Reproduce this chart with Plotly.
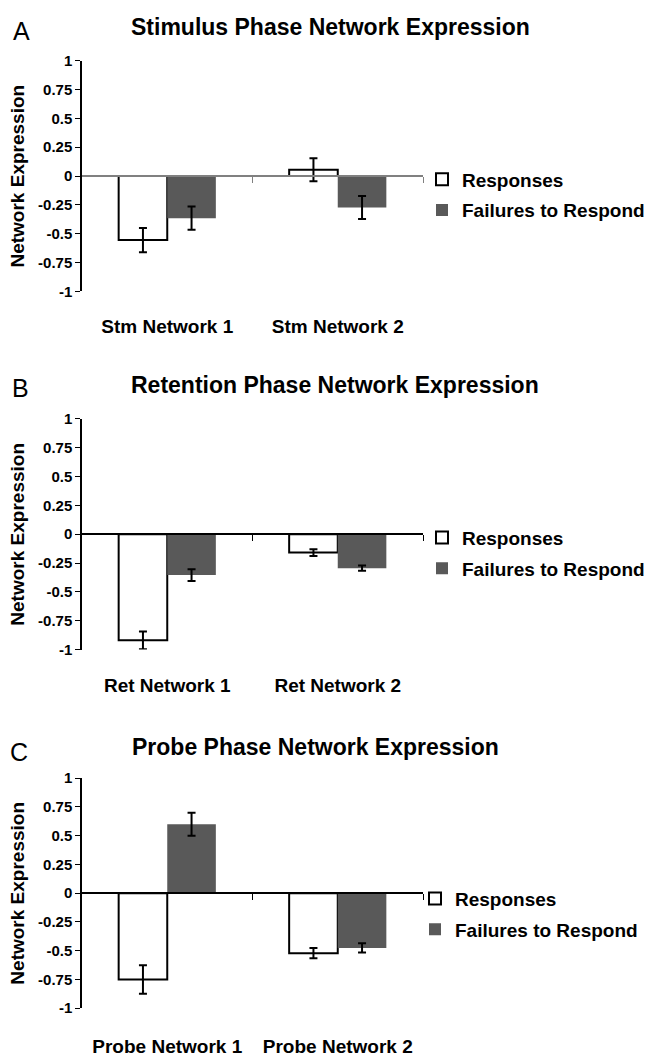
import plotly.graph_objects as go

# ---------------- data ----------------
series_names = ["Responses", "Failures to Respond"]

stm_categories = ["Stm Network 1", "Stm Network 2"]
stm_responses = [-0.555, 0.055]
stm_responses_err = [0.105, 0.10]
stm_failures = [-0.365, -0.273]
stm_failures_err = [0.10, 0.10]

ret_categories = ["Ret Network 1", "Ret Network 2"]
ret_responses = [-0.92, -0.16]
ret_responses_err = [0.077, 0.03]
ret_failures = [-0.355, -0.295]
ret_failures_err = [0.05, 0.023]

probe_categories = ["Probe Network 1", "Probe Network 2"]
probe_responses = [-0.75, -0.522]
probe_responses_err = [0.124, 0.045]
probe_failures = [0.60, -0.476]
probe_failures_err = [0.10, 0.04]

panel_titles = ["Stimulus Phase Network Expression",
                "Retention Phase Network Expression",
                "Probe Phase Network Expression"]
panel_letters = ["A", "B", "C"]

y_tick_values = [1, 0.75, 0.5, 0.25, 0, -0.25, -0.5, -0.75, -1]
y_tick_labels = ["1", "0.75", "0.5", "0.25", "0", "-0.25", "-0.5", "-0.75", "-1"]
y_title = "Network Expression"

# ---------------- layout geometry (pixels) ----------------
W, H = 651, 1057
FONT = "Liberation Sans, Arial, Helvetica, sans-serif"
X_LEFT, X_RIGHT = 82, 423
geom = [
    dict(top=52.5, bottom=287, title_x=331, title_y=18.5, letter_x=21, letter_y=22.5,
         leg_x=422, leg_top=154, label_gap=18, zero_color="#808080"),
    dict(top=416.5, bottom=651, title_x=335, title_y=382.5, letter_x=20, letter_y=385.5,
         leg_x=422, leg_top=518, label_gap=19, zero_color="#000000"),
    dict(top=781.7, bottom=1015.5, title_x=315, title_y=750.5, letter_x=19, letter_y=755,
         leg_x=415, leg_top=885, label_gap=21, zero_color="#000000"),
]

panels = [
    (stm_categories, stm_responses, stm_responses_err, stm_failures, stm_failures_err),
    (ret_categories, ret_responses, ret_responses_err, ret_failures, ret_failures_err),
    (probe_categories, probe_responses, probe_responses_err, probe_failures, probe_failures_err),
]

def py(p):
    return 1 - p / H

def px(p):
    return p / W

fig = go.Figure()
layout = dict(
    width=W, height=H,
    margin=dict(l=0, r=0, t=0, b=0),
    paper_bgcolor="white", plot_bgcolor="white",
    barmode="group", bargap=0.43, bargroupgap=0,
    showlegend=True,
    font=dict(family=FONT, color="black"),
)
annotations = []

for i, (cats, resp, resp_err, fail, fail_err) in enumerate(panels):
    g = geom[i]
    n = i + 1
    xa = "x" if n == 1 else f"x{n}"
    ya = "y" if n == 1 else f"y{n}"
    xo = f"x{n + 3}"
    leg = "legend" if n == 1 else f"legend{n}"
    xpos = list(range(len(cats)))

    fig.add_trace(go.Bar(
        x=xpos, y=resp, name=series_names[0], xaxis=xa, yaxis=ya,
        marker=dict(color="white", line=dict(color="black", width=2)),
        error_y=dict(type="data", array=resp_err, color="black", thickness=2, width=4),
        legend=leg, legendgroup=f"r{n}",
    ))
    fig.add_trace(go.Bar(
        x=xpos, y=fail, name=series_names[1], xaxis=xa, yaxis=ya,
        marker=dict(color="#595959", line=dict(color="#595959", width=0)),
        error_y=dict(type="data", array=fail_err, color="black", thickness=2, width=4),
        legend=leg, legendgroup=f"f{n}",
    ))
    # invisible trace so the category-boundary axis (drawn at y = 0) is rendered
    fig.add_trace(go.Scatter(
        x=xpos, y=[0] * len(xpos), xaxis=xo, yaxis=ya,
        mode="markers", marker=dict(opacity=0), showlegend=False, hoverinfo="skip",
    ))

    ydom = [py(g["bottom"]), py(g["top"])]
    xdom = [px(X_LEFT), px(X_RIGHT)]
    xrange = [-0.5, len(cats) - 0.5]

    layout["xaxis" if n == 1 else f"xaxis{n}"] = dict(
        domain=xdom, anchor=ya, range=xrange,
        tickmode="array", tickvals=xpos, ticktext=cats,
        ticks="outside", ticklen=g["label_gap"], tickcolor="rgba(0,0,0,0)",
        showline=False, showgrid=False, zeroline=False,
        tickfont=dict(family=FONT, size=19, weight="bold", color="black"),
        fixedrange=True,
    )
    layout["yaxis" if n == 1 else f"yaxis{n}"] = dict(
        domain=ydom, anchor=xa, range=[-1, 1],
        tickmode="array", tickvals=y_tick_values, ticktext=y_tick_labels,
        ticks="outside", ticklen=5, tickwidth=1, tickcolor="black",
        showline=True, linecolor="black", linewidth=1.5,
        showgrid=False, zeroline=False,
        tickfont=dict(family=FONT, size=15, weight="bold", color="black"),
        fixedrange=True,
    )
    # category axis line along the value 0, with boundary tick marks
    layout[f"xaxis{n + 3}"] = dict(
        overlaying=xa, anchor="free", position=(ydom[0] + ydom[1]) / 2,
        range=xrange, domain=xdom,
        tickmode="array", tickvals=[x + 0.5 for x in xpos],
        ticks="outside", ticklen=6, tickwidth=1, tickcolor=g["zero_color"],
        showticklabels=False, showline=True, linecolor=g["zero_color"], linewidth=1.5,
        showgrid=False, zeroline=False, fixedrange=True,
    )
    layout[leg] = dict(
        x=px(g["leg_x"]), y=py(g["leg_top"]), xanchor="left", yanchor="top",
        bgcolor="rgba(0,0,0,0)", borderwidth=0,
        font=dict(family=FONT, size=19, weight="bold", color="black"),
        tracegroupgap=3, itemwidth=30,
    )
    annotations.append(dict(
        text=panel_titles[i], x=px(g["title_x"]), y=py(g["title_y"]),
        xref="paper", yref="paper", xanchor="center", yanchor="middle",
        showarrow=False, font=dict(family=FONT, size=23, weight="bold", color="black"),
    ))
    annotations.append(dict(
        text=panel_letters[i], x=px(g["letter_x"]), y=py(g["letter_y"]),
        xref="paper", yref="paper", xanchor="center", yanchor="middle",
        showarrow=False, font=dict(family=FONT, size=25, color="black"),
    ))
    annotations.append(dict(
        text=y_title, x=px(17.5), y=(ydom[0] + ydom[1]) / 2,
        xref="paper", yref="paper", xanchor="center", yanchor="middle",
        textangle=-90, showarrow=False,
        font=dict(family=FONT, size=19, weight="bold", color="black"),
    ))

layout["annotations"] = annotations
fig.update_layout(**layout)
fig.write_html(
    "out.html",
    config={"displayModeBar": False},
    post_script="document.body.style.margin='0';document.body.style.padding='0';",
)
